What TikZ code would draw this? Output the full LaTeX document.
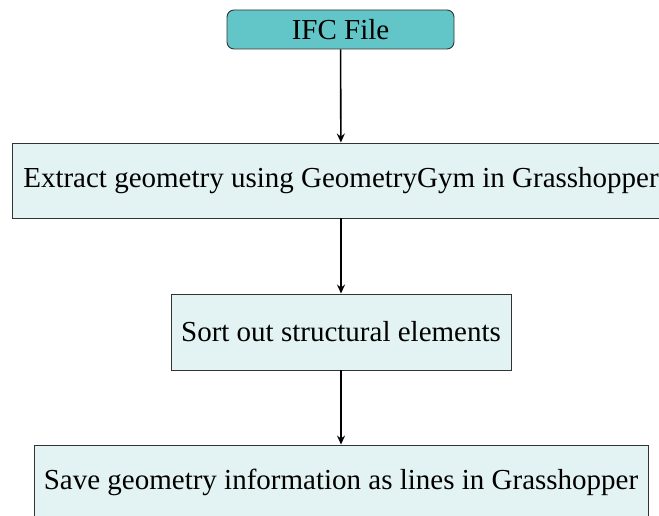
\documentclass[tikz,border=0pt]{standalone}
\usepackage{fontspec}
\setmainfont{Liberation Serif}
\usetikzlibrary{arrows.meta}
\definecolor{teal1}{HTML}{62C6C8}
\definecolor{pale}{HTML}{E3F3F3}
\begin{document}
\begin{tikzpicture}[x=1pt,y=-1pt,
  box/.style={draw=black!80, line width=0.9pt, fill=pale, inner sep=0pt, font=\fontsize{29}{32}\selectfont},
  start/.style={box, fill=teal1, rounded corners=7pt},
  arr/.style={-{Stealth[length=9pt,width=8pt,inset=3pt]}, line width=1.6pt}]
\useasboundingbox (0,0) rectangle (659,516);
\clip (0,0) rectangle (659,516);
\node[start, minimum width=227pt, minimum height=39pt] (ifc) at (340.5,29.5) {IFC File};
\node[box, minimum width=658pt, minimum height=75pt] (ext) at (341,180.5) {Extract geometry using GeometryGym in Grasshopper};
\node[box, minimum width=340pt, minimum height=76pt] (sort) at (341,332) {Sort out structural elements};
\node[box, minimum width=614pt, minimum height=75pt] (save) at (341,482.5) {Save geometry information as lines in Grasshopper};
\draw[arr] (ifc) -- (ext);
\draw[arr] (ext) -- (sort);
\draw[arr] (sort) -- (save);
\end{tikzpicture}
\end{document}
